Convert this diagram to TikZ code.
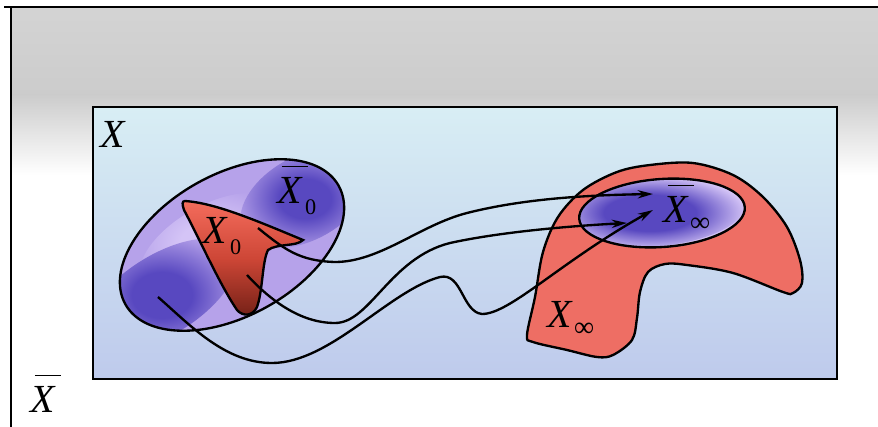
\documentclass[tikz,border=0pt]{standalone}
\usepackage{fontspec}
\setmainfont{Liberation Serif}
\usetikzlibrary{arrows.meta}
\definecolor{rtop}{RGB}{216,238,244}
\definecolor{rbot}{RGB}{190,202,236}
\definecolor{lav}{RGB}{182,162,234}
\definecolor{lavlight}{RGB}{212,196,246}
\definecolor{lavdark}{RGB}{88,72,192}
\definecolor{redtop}{RGB}{244,108,92}
\definecolor{redmid}{RGB}{205,70,54}
\definecolor{redbot}{RGB}{115,32,22}
\definecolor{redinf}{RGB}{238,110,100}
\pgfdeclareradialshading{darkblob}{\pgfpoint{0bp}{0bp}}{color(0bp)=(lavdark); color(9bp)=(lavdark); color(25bp)=(lav); color(50bp)=(lav)}
\pgfdeclareradialshading{lightblob}{\pgfpoint{0bp}{0bp}}{color(0bp)=(lavlight); color(10bp)=(lavlight); color(25bp)=(lav); color(50bp)=(lav)}
\pgfdeclareradialshading{infblob}{\pgfpoint{0bp}{0bp}}{color(0bp)=(lavdark); color(12bp)=(lavdark); color(25bp)=(lavlight); color(50bp)=(lavlight)}
\newcommand{\bX}{\rlap{\hspace{4pt}\rule[30.5pt]{22pt}{1.4pt}}\textit{X}}
\newcommand{\sub}[1]{\hspace{2pt}\raisebox{-10pt}{\fontsize{19}{19}\selectfont #1}}
\newcommand{\subinf}{\hspace{1pt}\raisebox{-8pt}{\fontsize{24}{24}\selectfont ∞}}
\begin{document}
\begin{tikzpicture}[x=0.03cm,y=-0.03cm,
  edge/.style={line width=2pt, draw=black},
  curve/.style={line width=2pt, draw=black, -{Stealth[length=13pt,width=7pt]}},
  lbl/.style={inner sep=0pt, font=\fontsize{34}{36}\selectfont, anchor=base west}]
\useasboundingbox (0,0) rectangle (878,427);
\fill[white] (0,0) rectangle (878,427);
% cloudy grey background
\shade[top color=gray!34, bottom color=gray!40] (11,7) rectangle (878,95);
\shade[top color=gray!40, bottom color=white] (11,95) rectangle (878,175);
\draw[line width=1.8pt] (4,7) -- (878,7);
\draw[line width=1.8pt] (11,7) -- (11,427);
% inner space X
\shade[top color=rtop, bottom color=rbot] (93,107) rectangle (837,379);
\draw[line width=2.2pt] (93,107) rectangle (837,379);
% ellipse Xbar_0
\begin{scope}
\clip[rotate around={29:(232,245)}] (232,245) ellipse [x radius=122, y radius=71];
\fill[lav] (100,150) rectangle (360,340);
\shade[shading=lightblob, rotate around={29:(212,245)}] (212,245) ellipse [x radius=80, y radius=40];
\shade[shading=darkblob, rotate around={32:(162,295)}] (162,295) ellipse [x radius=85, y radius=40];
\shade[shading=darkblob, rotate around={29:(305,198)}] (305,198) ellipse [x radius=70, y radius=42];
\end{scope}
\draw[edge, rotate around={29:(232,245)}] (232,245) ellipse [x radius=122, y radius=71];
% X_0
\shadedraw[edge, top color=redtop, bottom color=redbot, middle color=redmid]
  (185,201) .. controls (215,203) and (255,220) .. (303,240)
  .. controls (296,247) and (278,243) .. (268,250)
  .. controls (262,262) and (263,290) .. (257,307)
  .. controls (253,316) and (243,317) .. (237,310)
  .. controls (220,285) and (200,240) .. (184,210)
  .. controls (182,204) and (182,201) .. (185,201) -- cycle;
% X_inf
\draw[edge, fill=redinf] plot[smooth cycle, tension=0.55] coordinates {(527,335) (535,297) (543,252) (558,217) (583,190) (617,172) (650,165) (693,163) (733,175) (763,197) (787,227) (800,260) (802,283) (793,293) (783,292) (733,273) (687,265) (665,264) (648,272) (640,292) (637,318) (632,340) (613,355) (597,357) (567,350) (533,342)};
% Xbar_inf
\begin{scope}
\clip[rotate around={4:(662,213)}] (662,213) ellipse [x radius=83, y radius=34];
\fill[lavlight] (570,170) rectangle (750,255);
\shade[shading=infblob, rotate around={4:(650,211)}] (650,211) ellipse [x radius=95, y radius=36];
\end{scope}
\draw[edge, rotate around={4:(662,213)}] (662,213) ellipse [x radius=83, y radius=34];
% trajectories
\coordinate (a0) at (258,228);
\coordinate (a1) at (653,194);
\coordinate (b0) at (247,275);
\coordinate (b1) at (627,223);
\coordinate (c0) at (158,297);
\coordinate (c1) at (653,210);
\draw[curve] (a0) .. controls (285,250) and (300,261) .. (335,262)
  .. controls (380,262) and (420,225) .. (467,213)
  .. controls (530,197) and (600,195) .. (a1);
\draw[curve] (b0) .. controls (270,300) and (300,323) .. (335,323)
  .. controls (370,323) and (390,258) .. (450,243)
  .. controls (500,232) and (570,226) .. (b1);
\draw[curve] (c0) .. controls (190,325) and (225,363) .. (272,363)
  .. controls (330,363) and (390,290) .. (440,277)
  .. controls (462,272) and (462,312) .. (482,314)
  .. controls (510,314) and (560,262) .. (c1);
% labels
\node[lbl] (lX) at (100,148) {\textit{X}};
\node[lbl] (lXb) at (30,412) {\bX};
\node[lbl] (lX0) at (202,243) {\textit{X}\sub{0}};
\node[lbl] (lXb0) at (277,203) {\bX\sub{0}};
\node[lbl] (lXbi) at (663,222) {\bX\subinf};
\node[lbl] (lXi) at (547,327) {\textit{X}\subinf};
\end{tikzpicture}
\end{document}
